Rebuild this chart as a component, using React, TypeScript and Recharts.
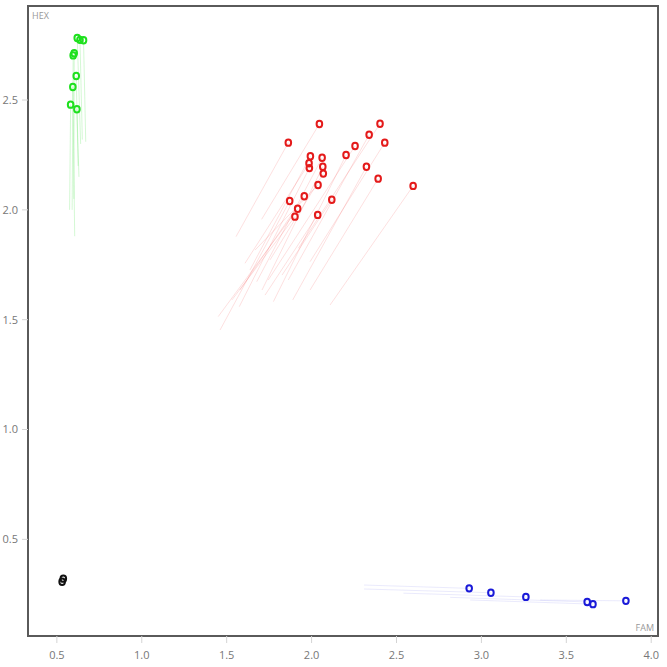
import React from "react";
import { ScatterChart, Scatter, XAxis, YAxis, ReferenceLine, ReferenceArea } from "recharts";

// x = FAM, y = HEX, tx/ty = trail start
const greenPoints = [
  { x: 0.62, y: 2.782, tx: 0.64, ty: 2.3 },
  { x: 0.636, y: 2.774, tx: 0.65, ty: 2.32 },
  { x: 0.657, y: 2.772, tx: 0.67, ty: 2.31 },
  { x: 0.602, y: 2.713, tx: 0.6, ty: 2.05 },
  { x: 0.596, y: 2.703, tx: 0.59, ty: 2.0 },
  { x: 0.614, y: 2.609, tx: 0.625, ty: 2.2 },
  { x: 0.594, y: 2.559, tx: 0.605, ty: 1.88 },
  { x: 0.581, y: 2.479, tx: 0.575, ty: 2.0 },
  { x: 0.618, y: 2.458, tx: 0.63, ty: 2.15 },
];

const redPoints = [
  { x: 2.046, y: 2.391, tx: 1.706, ty: 1.957 },
  { x: 2.403, y: 2.392, tx: 1.922, ty: 1.825 },
  { x: 1.863, y: 2.306, tx: 1.555, ty: 1.878 },
  { x: 2.339, y: 2.342, tx: 1.863, ty: 1.681 },
  { x: 2.431, y: 2.306, tx: 1.991, ty: 1.764 },
  { x: 2.256, y: 2.291, tx: 1.745, ty: 1.681 },
  { x: 2.203, y: 2.25, tx: 1.775, ty: 1.582 },
  { x: 1.993, y: 2.244, tx: 1.637, ty: 1.726 },
  { x: 2.062, y: 2.237, tx: 1.677, ty: 1.673 },
  { x: 1.985, y: 2.212, tx: 1.608, ty: 1.757 },
  { x: 1.987, y: 2.19, tx: 1.574, ty: 1.559 },
  { x: 2.066, y: 2.196, tx: 1.708, ty: 1.635 },
  { x: 2.069, y: 2.165, tx: 1.755, ty: 1.772 },
  { x: 2.323, y: 2.196, tx: 1.889, ty: 1.59 },
  { x: 2.392, y: 2.142, tx: 1.991, ty: 1.635 },
  { x: 2.598, y: 2.109, tx: 2.109, ty: 1.567 },
  { x: 2.038, y: 2.113, tx: 1.667, ty: 1.817 },
  { x: 1.957, y: 2.062, tx: 1.578, ty: 1.635 },
  { x: 1.871, y: 2.04, tx: 1.461, ty: 1.453 },
  { x: 2.119, y: 2.046, tx: 1.826, ty: 1.703 },
  { x: 1.918, y: 2.005, tx: 1.45, ty: 1.514 },
  { x: 1.902, y: 1.969, tx: 1.531, ty: 1.59 },
  { x: 2.036, y: 1.977, tx: 1.726, ty: 1.612 },
];

const bluePoints = [
  { x: 2.928, y: 0.277, tx: 2.309, ty: 0.292 },
  { x: 3.056, y: 0.257, tx: 2.309, ty: 0.274 },
  { x: 3.262, y: 0.238, tx: 2.541, ty: 0.255 },
  { x: 3.623, y: 0.215, tx: 2.816, ty: 0.236 },
  { x: 3.657, y: 0.205, tx: 2.934, ty: 0.224 },
  { x: 3.851, y: 0.22, tx: 3.346, ty: 0.224 },
];

const blackPoints = [
  { x: 0.538, y: 0.321, tx: 0.538, ty: 0.321 },
  { x: 0.531, y: 0.307, tx: 0.531, ty: 0.307 },
];

const xTicks = [0.5, 1.0, 1.5, 2.0, 2.5, 3.0, 3.5, 4.0];
const yTicks = [0.5, 1.0, 1.5, 2.0, 2.5];
const xDomain = [0.33, 4.04];
const yDomain = [0.06, 2.928];

const groups = [
  { name: "green", data: greenPoints, color: "#1ee01e", trail: "rgba(60,225,60,0.22)" },
  { name: "red", data: redPoints, color: "#e41a1a", trail: "rgba(240,60,60,0.16)" },
  { name: "blue", data: bluePoints, color: "#1a1ad8", trail: "rgba(80,80,230,0.12)" },
  { name: "black", data: blackPoints, color: "#111111", trail: "rgba(0,0,0,0.1)" },
];

const makeShape = (color: string) => (props: any) => (
  <ellipse cx={props.cx} cy={props.cy} rx={2.8} ry={3.2} fill="none" stroke={color} strokeWidth={2} />
);

const tickStyle = { fill: "#777", fontSize: 11, fontFamily: "Open Sans" };

export default function App() {
  return (
    <div style={{ position: "absolute", left: 0, top: 0, width: 667, height: 667, background: "#fff" }}>
      <ScatterChart width={667} height={667} margin={{ top: 6, right: 9, bottom: 0, left: 0 }}>
        <XAxis
          type="number"
          dataKey="x"
          domain={xDomain}
          ticks={xTicks}
          allowDataOverflow
          height={31}
          tick={tickStyle}
          tickFormatter={(v: number) => v.toFixed(1)}
          axisLine={false}
          tickLine={{ stroke: "#d4d4d4" }}
          tickSize={7}
          tickMargin={8}
        />
        <YAxis
          type="number"
          dataKey="y"
          domain={yDomain}
          ticks={yTicks}
          allowDataOverflow
          width={28}
          tick={tickStyle}
          tickFormatter={(v: number) => v.toFixed(1)}
          axisLine={false}
          tickLine={{ stroke: "#d4d4d4" }}
          tickSize={6}
          tickMargin={4}
        />
        <ReferenceArea
          x1={xDomain[0]}
          x2={xDomain[1]}
          y1={yDomain[0]}
          y2={yDomain[1]}
          fill="none"
          stroke="#5a5a5a"
          strokeWidth={2}
          fillOpacity={0}
          ifOverflow="visible"
          label={(p: any) => {
            const vb = p.viewBox;
            return (
              <g>
                <text x={vb.x + 4} y={vb.y + 13} fontSize={9} fill="#999" fontFamily="Open Sans">HEX</text>
                <text x={vb.x + vb.width - 4} y={vb.y + vb.height - 5} fontSize={9} fill="#999" fontFamily="Open Sans" textAnchor="end">FAM</text>
              </g>
            );
          }}
        />
        {groups.map((g) =>
          g.data.map((d, i) => (
            <ReferenceLine
              key={g.name + "-t-" + i}
              segment={[{ x: d.tx, y: d.ty }, { x: d.x, y: d.y }]}
              stroke={g.trail}
              strokeWidth={1}
              ifOverflow="visible"
            />
          ))
        )}
        {groups.map((g) => (
          <Scatter
            key={g.name}
            name={g.name}
            data={g.data}
            isAnimationActive={false}
            shape={makeShape(g.color)}
          />
        ))}
      </ScatterChart>
    </div>
  );
}
